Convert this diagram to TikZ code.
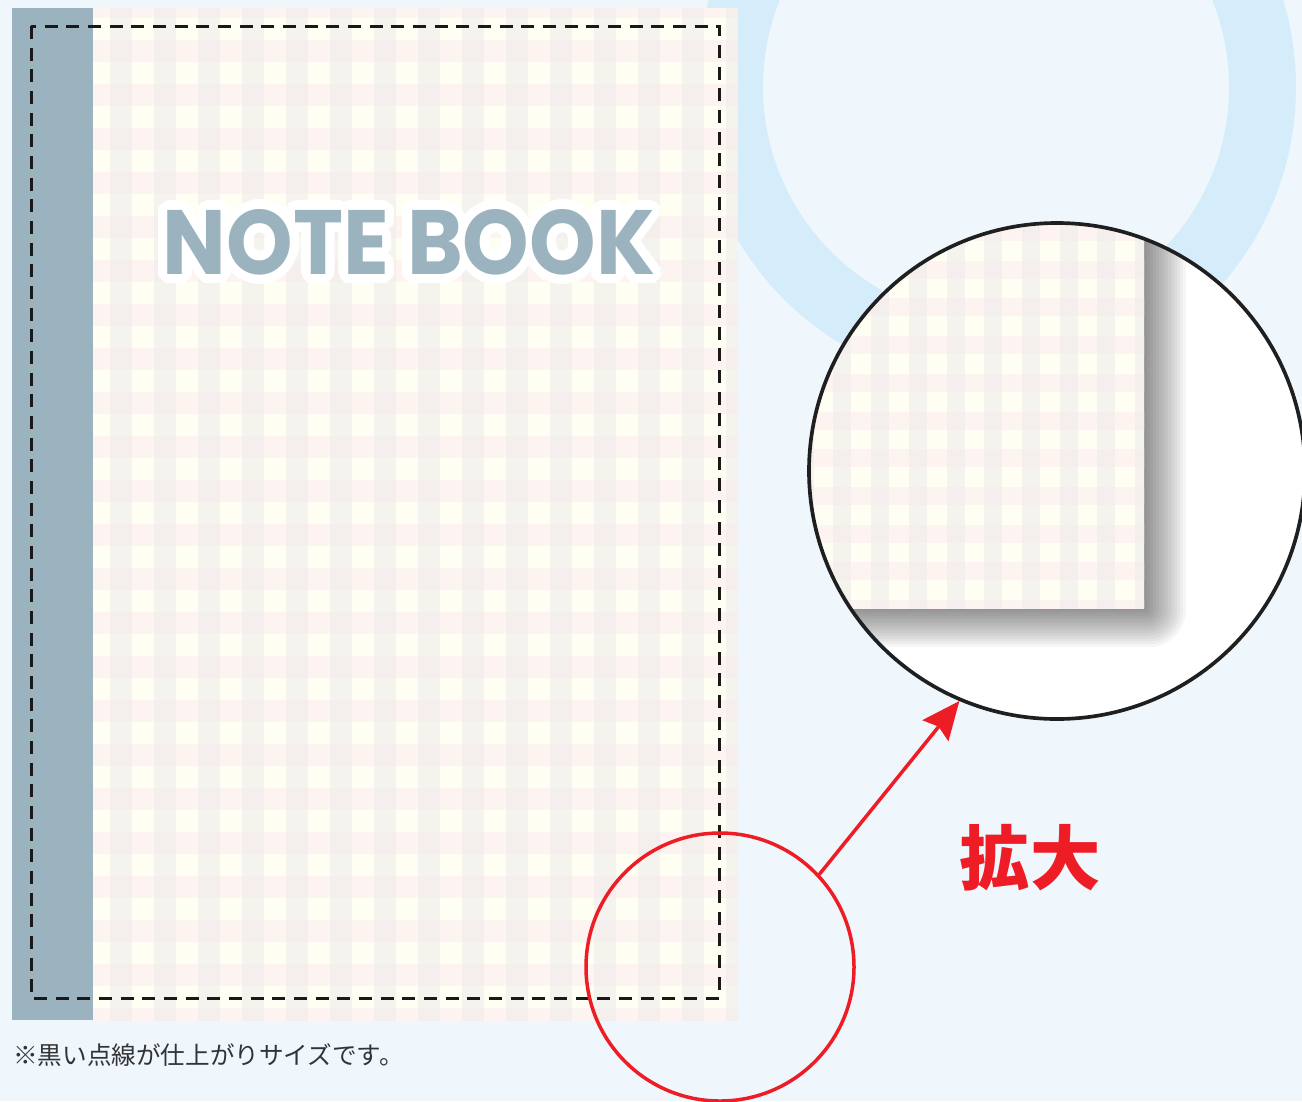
\documentclass[tikz,border=0pt]{standalone}
\usepackage{fontspec}
\newfontfamily\jpfont{Noto Sans CJK JP}
\newfontfamily\titlefont{Poppins}
\usepackage{tikz}
\usetikzlibrary{arrows.meta}
\usetikzlibrary{positioning}

\definecolor{paper}{HTML}{EFF7FD}
\definecolor{ringblue}{HTML}{D5EDFA}
\definecolor{spine}{HTML}{9BB3BE}
\definecolor{ginbase}{HTML}{FFFEF2}
\definecolor{gincol}{HTML}{F5F3EE}
\definecolor{ginrow}{HTML}{FDF3F1}
\definecolor{ginboth}{HTML}{F4EFEC}
\definecolor{markred}{HTML}{EE1C25}
\definecolor{inkgray}{HTML}{333333}

% gingham: x0 y0 x1 y1, first column, first row, pitch, band
\newcommand{\gingham}[8]{%
  \begin{scope}
    \clip (#1,#2) rectangle (#3,#4);
    \fill[ginbase] (#1,#2) rectangle (#3,#4);
    \pgfmathsetmacro{\gnextx}{#5+#7}
    \pgfmathsetmacro{\gnexty}{#6+#7}
    \foreach \gy in {#6,\gnexty,...,#4}
      \fill[ginrow] (#1,\gy) rectangle (#3,\gy+#8);
    \foreach \gx in {#5,\gnextx,...,#3}{
      \fill[gincol] (\gx,#2) rectangle (\gx+#8,#4);
      \foreach \gy in {#6,\gnexty,...,#4}
        \fill[ginboth] (\gx,\gy) rectangle (\gx+#8,\gy+#8);
    }
  \end{scope}}

% white halo round a text
\newcommand{\halotext}[2]{%
  \leavevmode\rlap{\color{white}\foreach \hang in {0,15,...,345}{%
      \pgfmathsetlengthmacro{\hx}{#1*cos(\hang)}%
      \pgfmathsetlengthmacro{\hy}{#1*sin(\hang)}%
      \rlap{\hspace*{\hx}\raisebox{\hy}{#2}}}}%
  #2}

\tikzset{
  cutline/.style={black!90, line width=0.9mm, dash pattern=on 3.9mm off 2.6mm},
  redline/.style={markred, line width=1.05mm},
}

\begin{document}
\begin{tikzpicture}[x=0.3mm, y=-0.3mm]
    \useasboundingbox (0,0) rectangle (1302,1101);
    \clip (0,0) rectangle (1302,1101);
    \fill[paper] (0,0) rectangle (1302,1101);
    \draw[ringblue, line width=20.1mm] (996,87) circle (266.5);

    % notebook cover
    \gingham{93}{8}{738}{1020}{110}{-4}{44}{22}
    \fill[spine] (12,8) rectangle (93,1020);
    \draw[cutline] (31,26) rectangle (719,998);
    \node[text=spine, inner sep=0pt] (title) at (409,242)
        {\halotext{8pt}{\resizebox{147.6mm}{19.5mm}{\titlefont\bfseries NOTE BOOK}}};
    \node[anchor=west, text=inkgray, inner sep=0pt,
          font=\jpfont\fontsize{21pt}{25pt}\selectfont] (note) at (13,1055)
        {※黒い点線が仕上がりサイズです。};

    % magnified corner
    \fill[white] (1057,471) circle (248);
    \begin{scope}
        \clip (1057,471) circle (248);
        \foreach \s in {1,...,14}
            \fill[black, opacity=0.035, rounded corners=\s*0.8mm]
                (760,150) rectangle (1144+\s*3,608+\s*2.8);
        \gingham{760}{150}{1144}{608}{795.7}{185.3}{37.7}{18}
    \end{scope}
    \node[draw=black!88, line width=1.1mm, circle, inner sep=0pt,
          minimum size=148.8mm] (lens) at (1057,471) {};

    \node[draw=markred, line width=1.05mm, circle, inner sep=0pt,
          minimum size=80.4mm] (spot) at (720,967) {};
    \draw[redline, -{Stealth[length=11.4mm, width=9.9mm, inset=1.5mm]}]
        (spot.43) -- (lens.-113);
    \node[text=markred, font=\jpfont\bfseries\fontsize{60pt}{70pt}\selectfont]
        (zoomlabel) at (1030,858) {拡大};
\end{tikzpicture}
\end{document}
